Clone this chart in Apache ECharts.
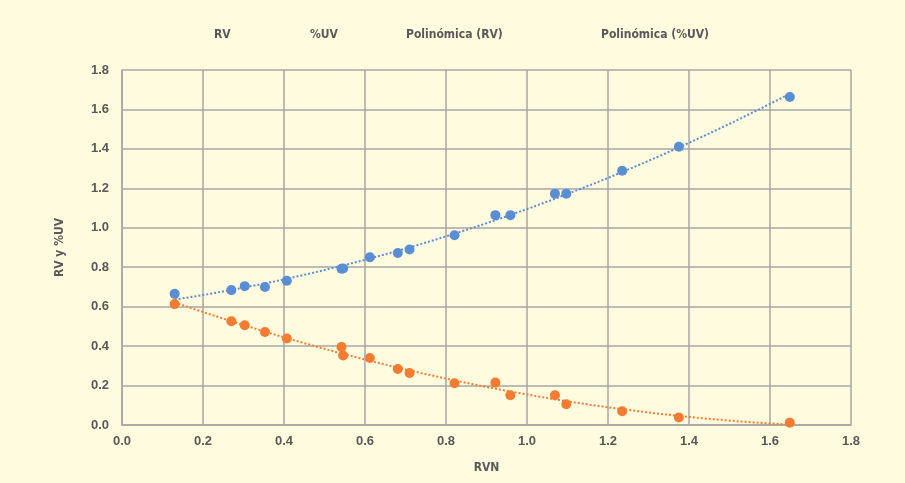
<!DOCTYPE html>
<html><head><meta charset="utf-8">
<script src="https://cdn.jsdelivr.net/npm/echarts@6/dist/echarts.min.js"></script>
<style>html,body{margin:0;padding:0;background:#FEFBDF;}#c{width:905px;height:483px;}</style>
</head><body><div id="c"></div>
<script>
var rvn = [0.130, 0.270, 0.303, 0.353, 0.407, 0.542, 0.546, 0.612, 0.681, 0.710, 0.821, 0.922, 0.959, 1.069, 1.097, 1.235, 1.375, 1.649];
var rv  = [0.665, 0.684, 0.704, 0.700, 0.731, 0.792, 0.794, 0.851, 0.872, 0.890, 0.962, 1.064, 1.064, 1.173, 1.173, 1.289, 1.411, 1.663];
var uv  = [0.613, 0.526, 0.506, 0.472, 0.439, 0.396, 0.352, 0.340, 0.284, 0.264, 0.212, 0.215, 0.151, 0.151, 0.105, 0.070, 0.038, 0.012];
var seriesNames = ['RV', '%UV', 'Polinómica (RV)', 'Polinómica (%UV)'];
var xTicks = ['0.0','0.2','0.4','0.6','0.8','1.0','1.2','1.4','1.6','1.8'];

// least-squares 2nd-order polynomial (Excel "Polinómica" trendline)
function polyFit(xs, ys) {
  var n = xs.length, s = [0,0,0,0,0], t = [0,0,0];
  for (var i = 0; i < n; i++) {
    var p = 1;
    for (var k = 0; k < 5; k++) { s[k] += p; if (k < 3) t[k] += p * ys[i]; p *= xs[i]; }
  }
  var A = [[s[0],s[1],s[2],t[0]],[s[1],s[2],s[3],t[1]],[s[2],s[3],s[4],t[2]]];
  for (var c = 0; c < 3; c++) {
    for (var r = c + 1; r < 3; r++) {
      var f = A[r][c] / A[c][c];
      for (var j = c; j < 4; j++) A[r][j] -= f * A[c][j];
    }
  }
  var b = [0,0,0];
  for (var r2 = 2; r2 >= 0; r2--) {
    var v = A[r2][3];
    for (var j2 = r2 + 1; j2 < 3; j2++) v -= A[r2][j2] * b[j2];
    b[r2] = v / A[r2][r2];
  }
  return b;
}
function trend(xs, ys) {
  var b = polyFit(xs, ys), out = [];
  var x0 = Math.min.apply(null, xs), x1 = Math.max.apply(null, xs), N = 80;
  for (var i = 0; i <= N; i++) {
    var x = x0 + (x1 - x0) * i / N;
    out.push([x, b[0] + b[1] * x + b[2] * x * x]);
  }
  return out;
}
function pts(xs, ys) { return xs.map(function (x, i) { return [x, ys[i]]; }); }

var blue = '#5A8ED4', orange = '#F47C30', txt = '#595959', grid = '#A6A6A6';
var narrow = "'DejaVu Sans Condensed', 'Liberation Sans', Arial, sans-serif";
var legendFont = {color: txt, fontFamily: narrow, fontWeight: 'bold', fontSize: 12};
function lg(name, left) {
  return {data: [name], left: left, top: 24, itemWidth: 0, itemHeight: 0, itemGap: 0, icon: 'rect', textStyle: legendFont, selectedMode: false};
}
var chart = echarts.init(document.getElementById('c'), null, {renderer: 'canvas'});
chart.setOption({
  backgroundColor: '#FEFBDF',
  animation: false,
  legend: [lg(seriesNames[0], 204), lg(seriesNames[1], 300), lg(seriesNames[2], 396), lg(seriesNames[3], 591)],
  grid: {left: 122, right: 54, top: 70, bottom: 58},
  xAxis: {
    type: 'value', min: 0, max: 1.8, interval: 0.2,
    name: 'RVN', nameLocation: 'middle', nameGap: 37,
    nameTextStyle: {color: txt, fontFamily: narrow, fontWeight: 'bold', fontSize: 12},
    axisLine: {lineStyle: {color: grid, width: 1.5}},
    axisTick: {show: false},
    axisLabel: {color: txt, fontFamily: 'Liberation Sans', fontWeight: 'bold', fontSize: 13, margin: 10,
      formatter: function (v) { return xTicks[Math.round(v / 0.2)]; }},
    splitLine: {show: true, lineStyle: {color: grid, width: 1.5}}
  },
  yAxis: {
    type: 'value', min: 0, max: 1.8, interval: 0.2,
    name: 'RV y %UV', nameLocation: 'middle', nameGap: 56,
    nameTextStyle: {color: txt, fontFamily: narrow, fontWeight: 'bold', fontSize: 12},
    axisLine: {show: true, lineStyle: {color: grid, width: 1.5}},
    axisTick: {show: false},
    axisLabel: {color: txt, fontFamily: 'Liberation Sans', fontWeight: 'bold', fontSize: 13, margin: 13,
      formatter: function (v) { return v.toFixed(1); }},
    splitLine: {show: true, lineStyle: {color: grid, width: 1.5}}
  },
  series: [
    {name: seriesNames[0], type: 'scatter', data: pts(rvn, rv), symbolSize: 10, itemStyle: {color: blue, opacity: 1}, z: 5},
    {name: seriesNames[1], type: 'scatter', data: pts(rvn, uv), symbolSize: 10, itemStyle: {color: orange, opacity: 1}, z: 5},
    {name: seriesNames[2], type: 'line', data: trend(rvn, rv), showSymbol: false, smooth: false,
      lineStyle: {color: blue, width: 2, type: [2, 2]}, itemStyle: {color: blue}, z: 3},
    {name: seriesNames[3], type: 'line', data: trend(rvn, uv), showSymbol: false, smooth: false,
      lineStyle: {color: orange, width: 2, type: [2, 2]}, itemStyle: {color: orange}, z: 3}
  ]
});
</script></body></html>
